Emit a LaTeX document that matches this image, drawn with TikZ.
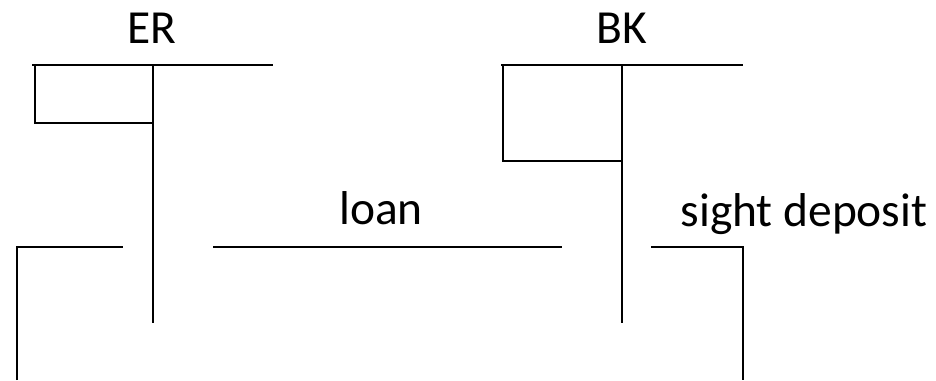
\documentclass[tikz,border=0pt]{standalone}
\usepackage{fontspec}
\setmainfont{Carlito}

\begin{document}
\begin{tikzpicture}[x=0.75pt, y=-0.75pt, line width=1.4pt,
  lbl/.style={anchor=base, inner sep=0pt, font=\fontsize{35.6}{42}\selectfont}]
  \useasboundingbox (0,0) rectangle (936,380);

  % account titles and entries
  \node[lbl] (er) at (152,43) {ER};
  \node[lbl] (bk) at (622,43) {BK};
  \node[lbl] (loan) at (381,224) {loan};
  \node[lbl] (sd) at (804,226) {sight deposit};

  % ER account
  \coordinate (erl) at (32,65);
  \coordinate (err) at (273,65);
  \coordinate (ert) at (153,65);
  \coordinate (erb) at (153,323);
  \coordinate (erbox) at (35,123);
  \draw (erl) -- (err);
  \draw (ert) -- (erb);
  \draw (erbox) rectangle (ert);

  % BK account
  \coordinate (bkl) at (501,65);
  \coordinate (bkr) at (743,65);
  \coordinate (bkt) at (622,65);
  \coordinate (bkb) at (622,323);
  \coordinate (bkbox) at (503,161);
  \draw (bkl) -- (bkr);
  \draw (bkt) -- (bkb);
  \draw (bkbox) rectangle (bkt);

  % lower lines
  \coordinate (lb) at (17,380);
  \coordinate (lc) at (17,247);
  \coordinate (le) at (123,247);
  \coordinate (ls) at (213,247);
  \coordinate (lf) at (562,247);
  \coordinate (rs) at (651,247);
  \coordinate (rc) at (743,247);
  \coordinate (rb) at (743,380);
  \draw (lb) -- (lc) -- (le);
  \draw (ls) -- (lf);
  \draw (rs) -- (rc) -- (rb);
\end{tikzpicture}
\end{document}
